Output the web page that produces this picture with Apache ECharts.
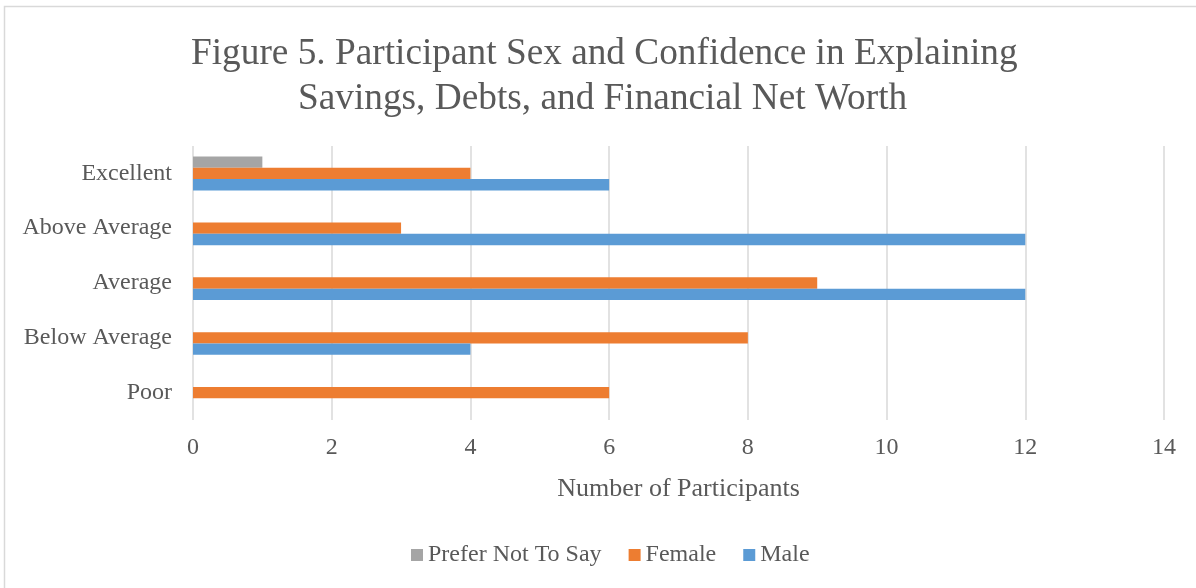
<!DOCTYPE html>
<html>
<head>
<meta charset="utf-8">
<script src="https://cdn.jsdelivr.net/npm/echarts@6/dist/echarts.min.js"></script>
<style>
  html, body { margin: 0; padding: 0; background: #ffffff; }
  #chart { width: 1196px; height: 588px; }
</style>
</head>
<body>
<div id="chart"></div>
<script>
// Confidence ratings, bottom to top on the category axis
const categories = ['Poor', 'Below Average', 'Average', 'Above Average', 'Excellent'];
const maleCounts = [0, 4, 12, 12, 6];
const femaleCounts = [6, 8, 9, 3, 4];
const preferNotCounts = [0, 0, 0, 0, 1];
const xTicks = [0, 2, 4, 6, 8, 10, 12, 14];
const titleLines = [
  'Figure 5. Participant Sex and Confidence in Explaining',
  'Savings, Debts, and Financial Net Worth'
];

const serif = '"Liberation Serif", "Times New Roman", serif';
const textColor = '#595959';

const titleStyle = {
  fontFamily: serif,
  fontWeight: 'normal',
  fontSize: 37.3,
  lineHeight: 45,
  color: textColor
};

const chart = echarts.init(document.getElementById('chart'), null, { renderer: 'canvas' });

chart.setOption({
  backgroundColor: '#ffffff',
  animation: false,
  // Two-line heading, one title component per line
  title: [
    { text: titleLines[0], left: 186, top: 27, textStyle: titleStyle },
    { text: titleLines[1], left: 293, top: 72, textStyle: titleStyle }
  ],
  graphic: [{
    type: 'rect',
    shape: { x: 4.5, y: 6.5, width: 1200, height: 600 },
    style: { fill: 'none', stroke: '#d9d9d9', lineWidth: 1.5 },
    silent: true
  }],
  legend: {
    top: 543,
    left: 411,
    padding: 0,
    itemWidth: 12,
    itemHeight: 12,
    itemGap: 27,
    icon: 'rect',
    data: ['Prefer Not To Say', 'Female', 'Male'],
    textStyle: { fontFamily: serif, fontSize: 24, color: textColor }
  },
  grid: {
    left: 193,
    right: 32,
    top: 146,
    bottom: 168,
    containLabel: false
  },
  xAxis: {
    type: 'value',
    min: xTicks[0],
    max: xTicks[xTicks.length - 1],
    interval: 2,
    name: 'Number of Participants',
    nameLocation: 'middle',
    nameGap: 56,
    nameTextStyle: { fontFamily: serif, fontSize: 26, color: textColor },
    axisLine: { show: false },
    axisTick: { show: false },
    axisLabel: { fontFamily: serif, fontSize: 24, color: textColor, margin: 16 },
    splitLine: { show: true, lineStyle: { color: '#d9d9d9', width: 1.5 } }
  },
  yAxis: {
    type: 'category',
    data: categories,
    axisLine: { show: false },
    axisTick: { show: false },
    axisLabel: { fontFamily: serif, fontSize: 24, color: textColor, margin: 21 },
    splitLine: { show: false }
  },
  // Series order sets the stacking within each band: grey on top, blue at the bottom
  series: [
    {
      name: 'Prefer Not To Say',
      type: 'bar',
      data: preferNotCounts,
      itemStyle: { color: '#a5a5a5' },
      barGap: '0%',
      barCategoryGap: '38%'
    },
    {
      name: 'Female',
      type: 'bar',
      data: femaleCounts,
      itemStyle: { color: '#ed7d31' },
      barGap: '0%',
      barCategoryGap: '38%'
    },
    {
      name: 'Male',
      type: 'bar',
      data: maleCounts,
      itemStyle: { color: '#5b9bd5' },
      barGap: '0%',
      barCategoryGap: '38%'
    }
  ]
});
</script>
</body>
</html>
